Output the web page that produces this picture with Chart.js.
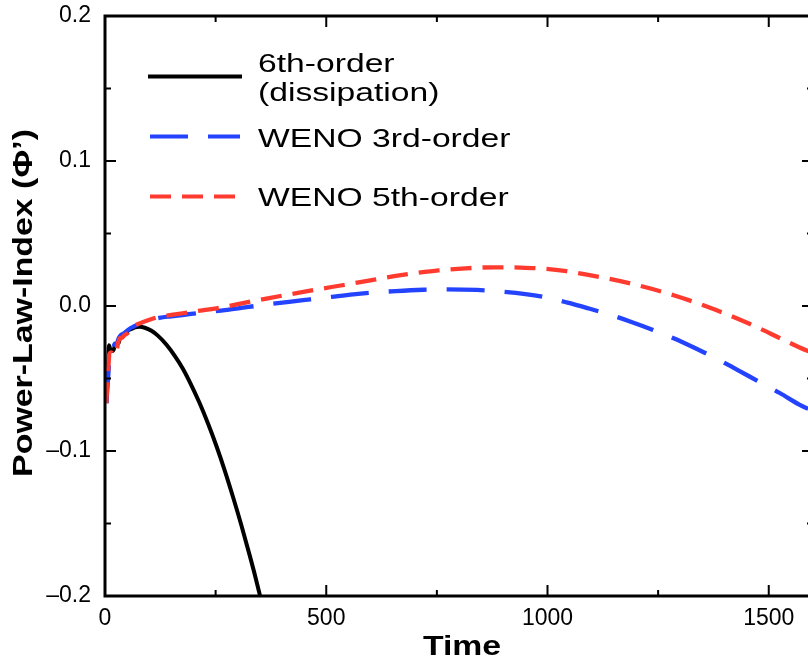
<!DOCTYPE html>
<html>
<head>
<meta charset="utf-8">
<script src="https://cdn.jsdelivr.net/npm/chart.js@4/dist/chart.umd.min.js"></script>
<style>
  html, body { margin: 0; padding: 0; background: #fff; overflow: hidden; }
  #wrap { width: 830px; height: 660px; }
</style>
</head>
<body>
<div id="wrap"><canvas id="c" width="830" height="660"></canvas></div>
<script>
// Axis ticks
const xTickValues = [0, 500, 1000, 1500];
const xMinorValues = [250, 750, 1250];
const yTickValues = [-0.2, -0.1, 0.0, 0.1, 0.2];
const yMinorValues = [-0.15, -0.05, 0.05, 0.15];

// Series names
const seriesNames = ['6th-order\n(dissipation)', 'WENO 3rd-order', 'WENO 5th-order'];

// 6th-order scheme with dissipation
const timeSixth = [3, 5, 7, 9, 11, 14, 18, 22, 26, 30, 35, 40, 46, 52, 58, 65, 72, 78, 90, 105, 120, 139, 158, 176, 195, 214, 233, 252, 271, 290, 308, 327, 340, 352];
const phiSixth = [-0.067, -0.055, -0.040, -0.027, -0.029, -0.031, -0.031, -0.028, -0.026, -0.026, -0.021, -0.020, -0.019, -0.017, -0.016, -0.0150, -0.0145, -0.0143, -0.0150, -0.0171, -0.0206, -0.0267, -0.0345, -0.0432, -0.0545, -0.0671, -0.0812, -0.0967, -0.1138, -0.1324, -0.1510, -0.1720, -0.1870, -0.2020];

// WENO 3rd-order
const timeWeno3 = [3, 5, 8, 10, 14, 18, 22, 26, 30, 36, 42, 50, 58, 66, 78, 100, 123, 150, 175, 220, 271, 320, 368, 416, 464, 512, 561, 609, 657, 720, 773, 840, 898, 950, 995, 1043, 1092, 1140, 1188, 1237, 1285, 1333, 1381, 1430, 1478, 1525, 1569, 1600];
const phiWeno3 = [-0.067, -0.058, -0.045, -0.035, -0.031, -0.030, -0.026, -0.027, -0.023, -0.020, -0.019, -0.017, -0.0152, -0.014, -0.0122, -0.0100, -0.0082, -0.0071, -0.0062, -0.0045, -0.0028, -0.0008, 0.0011, 0.0029, 0.0046, 0.0063, 0.0080, 0.0093, 0.0103, 0.0112, 0.0115, 0.0111, 0.0099, 0.0082, 0.0060, 0.0025, -0.0016, -0.0059, -0.0108, -0.0163, -0.0223, -0.0290, -0.0361, -0.0442, -0.0522, -0.0600, -0.0680, -0.0725];

// WENO 5th-order
const timeWeno5 = [3, 5, 8, 10, 14, 18, 22, 26, 30, 34, 38, 44, 50, 54, 60, 70, 78, 100, 123, 150, 175, 220, 271, 320, 368, 416, 464, 512, 561, 609, 657, 705, 754, 815, 879, 937, 995, 1043, 1092, 1140, 1188, 1237, 1285, 1333, 1381, 1430, 1478, 1530, 1584, 1600];
const phiWeno5 = [-0.067, -0.055, -0.040, -0.033, -0.032, -0.033, -0.029, -0.030, -0.025, -0.022, -0.022, -0.020, -0.019, -0.017, -0.015, -0.013, -0.012, -0.0095, -0.0074, -0.0062, -0.0050, -0.0030, -0.0005, 0.0025, 0.0053, 0.0080, 0.0106, 0.0131, 0.0156, 0.0182, 0.0207, 0.0228, 0.0246, 0.0260, 0.0267, 0.0265, 0.0257, 0.0240, 0.0214, 0.0187, 0.0155, 0.0117, 0.0074, 0.0026, -0.0028, -0.0088, -0.0153, -0.0229, -0.0305, -0.0322];

const FONT = '"Liberation Sans", Arial, Helvetica, sans-serif';
const COLORS = ['#000000', '#2443ff', '#ff3b30'];
const DASHES = [[], [38, 20], [21, 11]];

const toPoints = (ts, vs) => ts.map((t, i) => ({ x: t, y: vs[i] }));

function fmtY(v) {
  const s = Math.abs(v).toFixed(1);
  return v < -1e-9 ? '\u2013' + s : s;
}

// Text drawn with a horizontal stretch factor
function stretchedText(ctx, text, x, y, sx, align) {
  ctx.save();
  ctx.translate(x, y);
  ctx.scale(sx, 1);
  ctx.textAlign = align || 'left';
  ctx.fillText(text, 0, 0);
  ctx.restore();
}

const framePlugin = {
  id: 'frameTicksLegend',
  afterDraw(chart) {
    const { ctx, chartArea: a, scales } = chart;
    const xs = scales.x, ys = scales.y;
    ctx.save();
    ctx.strokeStyle = '#000';
    ctx.fillStyle = '#000';

    // frame
    ctx.lineWidth = 3;
    ctx.setLineDash([]);
    ctx.strokeRect(a.left, a.top, a.right - a.left, a.bottom - a.top);

    // inward tick marks on all four sides
    ctx.lineWidth = 2;
    const xTick = (v, len) => {
      const p = xs.getPixelForValue(v);
      ctx.beginPath();
      ctx.moveTo(p, a.bottom); ctx.lineTo(p, a.bottom - len);
      ctx.moveTo(p, a.top); ctx.lineTo(p, a.top + len);
      ctx.stroke();
    };
    const yTick = (v, len) => {
      const p = ys.getPixelForValue(v);
      ctx.beginPath();
      ctx.moveTo(a.left, p); ctx.lineTo(a.left + len, p);
      ctx.moveTo(a.right, p); ctx.lineTo(a.right - len, p);
      ctx.stroke();
    };
    xTickValues.forEach(v => xTick(v, 11));
    xMinorValues.forEach(v => xTick(v, 6));
    yTickValues.forEach(v => yTick(v, 11));
    yMinorValues.forEach(v => yTick(v, 6));

    // legend
    const legendRows = [
      { lineY: 76.5, x0: 148, x1: 242, width: 4.2, texts: [[72, 0], [100.5, 1]] },
      { lineY: 136.5, x0: 150, x1: 240, width: 4, texts: [[146.5, 0]] },
      { lineY: 196.5, x0: 150, x1: 236, width: 4, texts: [[205.5, 0]] }
    ];
    ctx.font = '26.5px ' + FONT;
    ctx.textBaseline = 'alphabetic';
    legendRows.forEach((row, i) => {
      ctx.save();
      ctx.strokeStyle = COLORS[i];
      ctx.lineWidth = row.width;
      ctx.setLineDash(DASHES[i]);
      ctx.beginPath();
      ctx.moveTo(row.x0, row.lineY);
      ctx.lineTo(row.x1, row.lineY);
      ctx.stroke();
      ctx.restore();
      const lines = seriesNames[i].split('\n');
      row.texts.forEach(([by, li]) => stretchedText(ctx, lines[li], 258, by, 1.27));
    });

    // axis titles
    ctx.font = 'bold 27px ' + FONT;
    stretchedText(ctx, 'Time', 462, 655, 1.25, 'center');

    ctx.save();
    ctx.font = 'bold 28px ' + FONT;
    ctx.translate(32, 303);
    ctx.rotate(-Math.PI / 2);
    ctx.scale(1.21, 1);
    ctx.textAlign = 'center';
    ctx.fillText('Power-Law-Index (\u03A6\u2019)', 0, 0);
    ctx.restore();

    ctx.restore();
  }
};

const datasetBase = {
  pointRadius: 0,
  pointHoverRadius: 0,
  fill: false,
  cubicInterpolationMode: 'monotone',
  borderCapStyle: 'butt',
  borderJoinStyle: 'round'
};

new Chart(document.getElementById('c'), {
  type: 'line',
  data: {
    datasets: [
      Object.assign({}, datasetBase, {
        label: seriesNames[2],
        data: toPoints(timeWeno5, phiWeno5),
        borderColor: COLORS[2], borderWidth: 4.3, borderDash: DASHES[2], order: 0
      }),
      Object.assign({}, datasetBase, {
        label: seriesNames[1],
        data: toPoints(timeWeno3, phiWeno3),
        borderColor: COLORS[1], borderWidth: 4.3, borderDash: DASHES[1], order: 1
      }),
      Object.assign({}, datasetBase, {
        label: seriesNames[0],
        data: toPoints(timeSixth, phiSixth),
        borderColor: COLORS[0], borderWidth: 4, order: 2
      })
    ]
  },
  options: {
    responsive: false,
    animation: false,
    devicePixelRatio: 1,
    layout: { padding: { top: 16, right: 17, left: 0, bottom: 0 } },
    plugins: { legend: { display: false }, tooltip: { enabled: false } },
    scales: {
      x: {
        type: 'linear',
        min: 0, max: 1600,
        grid: { display: false },
        border: { display: false },
        afterBuildTicks: s => { s.ticks = xTickValues.map(value => ({ value })); },
        afterFit: s => { s.height = 64; s.paddingLeft = 0; s.paddingRight = 0; },
        ticks: {
          color: '#000', padding: 1, maxRotation: 0,
          font: { family: FONT, size: 23 },
          callback: v => String(v)
        }
      },
      y: {
        type: 'linear',
        min: -0.2, max: 0.2,
        grid: { display: false },
        border: { display: false },
        afterBuildTicks: s => { s.ticks = yTickValues.map(value => ({ value })); },
        afterFit: s => { s.width = 105; s.paddingTop = 0; s.paddingBottom = 0; },
        ticks: {
          color: '#000', padding: 6,
          font: { family: FONT, size: 23 },
          callback: v => fmtY(v)
        }
      }
    }
  },
  plugins: [framePlugin]
});
</script>
</body>
</html>
